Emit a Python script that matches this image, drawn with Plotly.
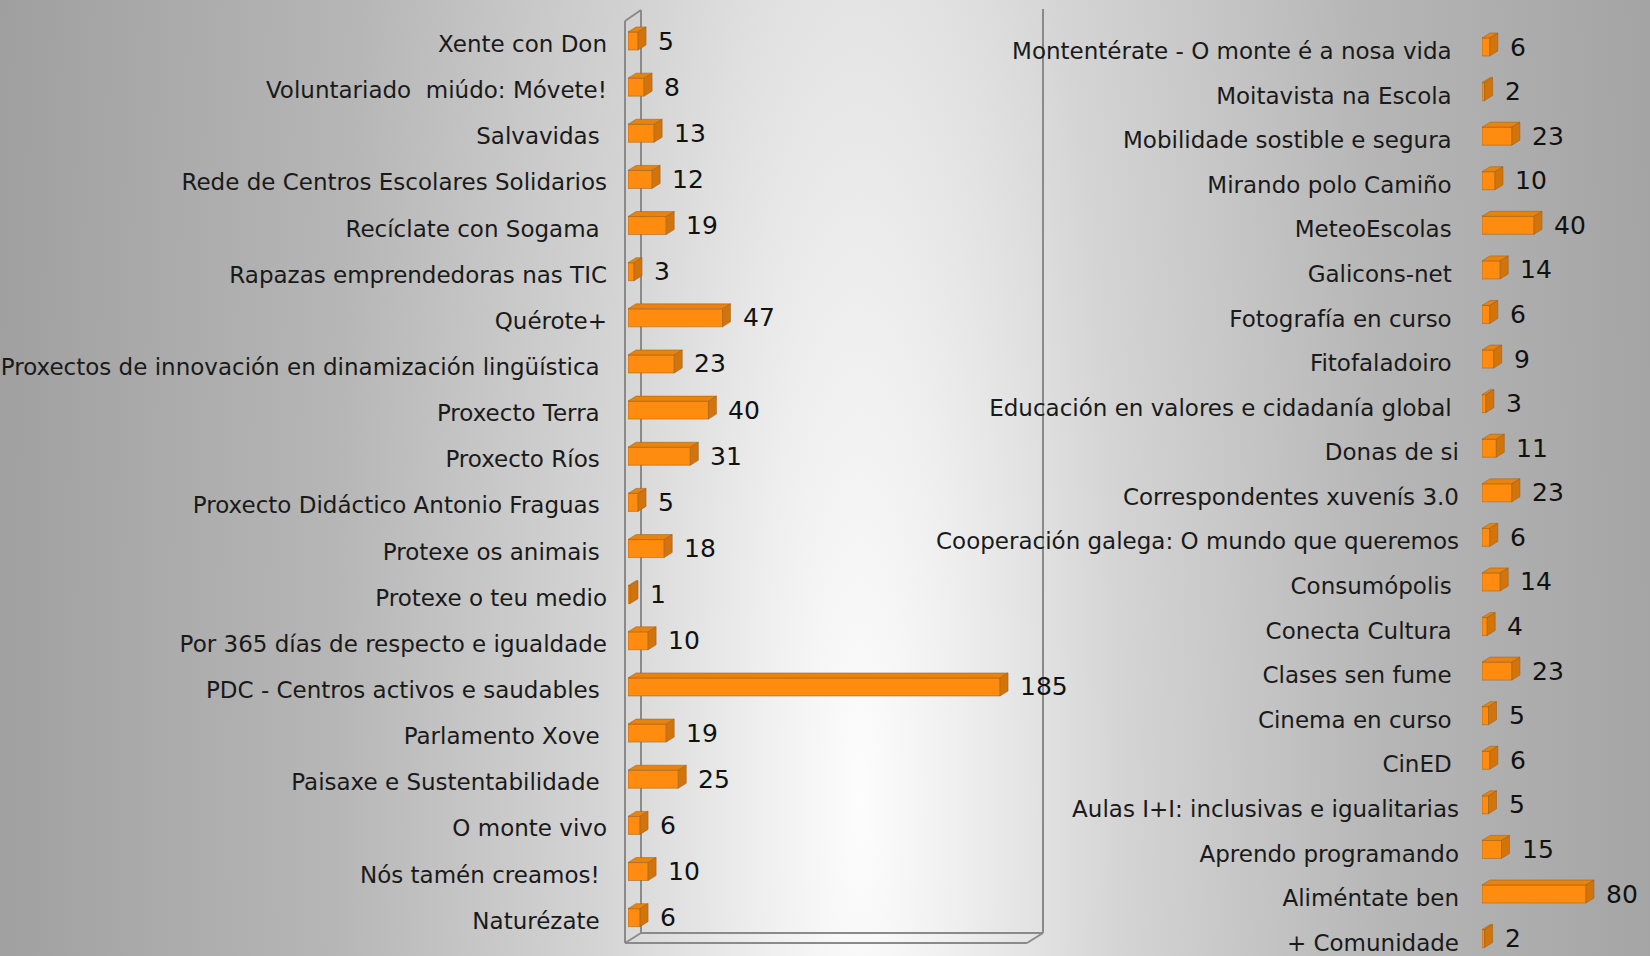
import base64
import plotly.graph_objects as go

# ---------------- data ----------------
left_labels = [
    "Xente con Don", "Voluntariado  miúdo: Móvete!", "Salvavidas ",
    "Rede de Centros Escolares Solidarios", "Recíclate con Sogama ",
    "Rapazas emprendedoras nas TIC", "Quérote+",
    "Proxectos de innovación en dinamización lingüística ", "Proxecto Terra ",
    "Proxecto Ríos ", "Proxecto Didáctico Antonio Fraguas ", "Protexe os animais ",
    "Protexe o teu medio", "Por 365 días de respecto e igualdade",
    "PDC - Centros activos e saudables ", "Parlamento Xove ",
    "Paisaxe e Sustentabilidade ", "O monte vivo", "Nós tamén creamos! ", "Naturézate ",
]
left_values = [5, 8, 13, 12, 19, 3, 47, 23, 40, 31, 5, 18, 1, 10, 185, 19, 25, 6, 10, 6]

right_labels = [
    "Montentérate - O monte é a nosa vida ", "Moitavista na Escola ",
    "Mobilidade sostible e segura ", "Mirando polo Camiño ", "MeteoEscolas ",
    "Galicons-net ", "Fotografía en curso ", "Fitofaladoiro ",
    "Educación en valores e cidadanía global ", "Donas de si",
    "Correspondentes xuvenís 3.0", "Cooperación galega: O mundo que queremos",
    "Consumópolis ", "Conecta Cultura ", "Clases sen fume ", "Cinema en curso ",
    "CinED ", "Aulas I+I: inclusivas e igualitarias", "Aprendo programando",
    "Aliméntate ben", "+ Comunidade",
]
right_values = [6, 2, 23, 10, 40, 14, 6, 9, 3, 11, 23, 6, 14, 4, 23, 5, 6, 5, 15, 80, 2]

# ---------------- layout constants ----------------
W, H = 1650, 956
FRONT = "#FF8C0F"
TOP = "#EA830B"
SIDE = "#D3740A"
EDGE = "rgba(150,95,30,0.65)"
FONT = "DejaVu Sans"

# left panel
L_X0, L_K, L_RANGE = 628, 2.011, 200
L_C0, L_STEP = 41, 46.14
# right panel
R_X0, R_K, R_RANGE = 1482, 1.3, 120
R_C0, R_STEP = 47, 44.58

BAR_H = 18      # front face height (px)
DX, DY = 8, 5   # 3D depth offset (px)


def nb(s):
    return s.replace(" ", "\u00a0")


fig = go.Figure()

panels = [
    dict(labels=left_labels, values=left_values, xa="x", ya="y",
         x0=L_X0, k=L_K, rng=L_RANGE, c0=L_C0, step=L_STEP),
    dict(labels=right_labels, values=right_values, xa="x2", ya="y2",
         x0=R_X0, k=R_K, rng=R_RANGE, c0=R_C0, step=R_STEP),
]

shapes = []
annotations = []
for p in panels:
    n = len(p["values"])
    idx = list(range(n))
    fig.add_trace(go.Bar(
        x=p["values"], y=idx, orientation="h",
        width=BAR_H / p["step"],
        marker=dict(color=FRONT, line=dict(color=EDGE, width=0.8)),
        xaxis=p["xa"], yaxis=p["ya"], hoverinfo="x+y", showlegend=False,
    ))
    d = DX / p["k"]
    h2 = BAR_H / 2
    for i, v in zip(idx, p["values"]):
        # top face (x in data units, y in pixels)
        shapes.append(dict(
            type="path", xref=p["xa"], yref=p["ya"],
            ysizemode="pixel", yanchor=i,
            path=f"M0,{h2} L{v},{h2} L{v + d},{h2 + DY} L{d},{h2 + DY} Z",
            fillcolor=TOP, line=dict(color=EDGE, width=0.8), layer="above",
        ))
        # side face
        shapes.append(dict(
            type="path", xref=p["xa"], yref=p["ya"],
            xsizemode="pixel", xanchor=v, ysizemode="pixel", yanchor=i,
            path=f"M0,{-h2} L0,{h2} L{DX},{h2 + DY} L{DX},{-h2 + DY} Z",
            fillcolor=SIDE, line=dict(color=EDGE, width=0.8), layer="above",
        ))
        annotations.append(dict(
            x=v, y=i, xref=p["xa"], yref=p["ya"], text=str(v), showarrow=False,
            xanchor="left", yanchor="middle", xshift=19, yshift=0, borderpad=0,
            font=dict(family=FONT, size=25, color="#111111"),
        ))

# 3D frame of the left panel (decoration, pixel geometry)
def P(x, y):
    return x / W, 1 - y / H

frame = [
    ((625, 21), (625, 943)), ((641, 10), (641, 933)), ((625, 21), (641, 10)),
    ((625, 943), (1027, 943)), ((641, 933), (1043, 933)),
    ((1027, 943), (1043, 933)), ((625, 943), (641, 933)),
    ((1043, 9), (1043, 933)),
]
for a, b in frame:
    xa_, ya_ = P(*a)
    xb_, yb_ = P(*b)
    shapes.append(dict(type="line", xref="paper", yref="paper",
                       x0=xa_, y0=ya_, x1=xb_, y1=yb_,
                       line=dict(color="#8a8a8a", width=2), layer="below"))

# background gradient
svg = f'''<svg xmlns="http://www.w3.org/2000/svg" width="{W}" height="{H}" viewBox="0 0 {W} {H}">
<defs><radialGradient id="g" gradientUnits="userSpaceOnUse" cx="0" cy="0" r="1"
 gradientTransform="translate(860 800) scale(880 4200)">
<stop offset="0" stop-color="#fdfdfd"/>
<stop offset="0.12" stop-color="#eeeeee"/>
<stop offset="0.3" stop-color="#d4d4d4"/>
<stop offset="0.6" stop-color="#b6b6b6"/>
<stop offset="1" stop-color="#9f9f9f"/>
</radialGradient></defs>
<rect width="{W}" height="{H}" fill="url(#g)"/></svg>'''
bg_src = "data:image/svg+xml;base64," + base64.b64encode(svg.encode()).decode()

tickfont = dict(family=FONT, size=23, color="#1a1a1a")

l_top = L_C0 - L_STEP / 2
l_bot = L_C0 + (len(left_values) - 0.5) * L_STEP
r_top = R_C0 - R_STEP / 2
r_bottom_idx = (H - R_C0) / R_STEP

fig.update_layout(
    width=W, height=H, autosize=False,
    margin=dict(l=0, r=0, t=0, b=0, pad=0),
    paper_bgcolor="#a0a0a0", plot_bgcolor="rgba(0,0,0,0)",
    bargap=0, showlegend=False, hovermode=False,
    shapes=shapes, annotations=annotations,
    images=[dict(source=bg_src, xref="paper", yref="paper", x=0, y=1,
                 sizex=1, sizey=1, sizing="stretch", layer="below")],
    xaxis=dict(domain=[L_X0 / W, (L_X0 + L_RANGE * L_K) / W], range=[0, L_RANGE],
               visible=False, fixedrange=True),
    yaxis=dict(domain=[1 - l_bot / H, 1 - l_top / H],
               range=[len(left_values) - 0.5, -0.5], anchor="x",
               tickmode="array", tickvals=list(range(len(left_labels))),
               ticktext=[nb(s) for s in left_labels], tickfont=tickfont,
               ticks="", showline=False, showgrid=False, zeroline=False,
               ticklabelstandoff=20, ticklabelshift=-3, fixedrange=True),
    xaxis2=dict(domain=[R_X0 / W, (R_X0 + R_RANGE * R_K) / W], range=[0, R_RANGE],
                visible=False, fixedrange=True, anchor="y2"),
    yaxis2=dict(domain=[0, 1 - r_top / H],
                range=[r_bottom_idx, -0.5], anchor="x2",
                tickmode="array", tickvals=list(range(len(right_labels))),
                ticktext=[nb(s) for s in right_labels], tickfont=tickfont,
                ticks="", showline=False, showgrid=False, zeroline=False,
                ticklabelstandoff=22, ticklabelshift=-4, fixedrange=True),
)

fig.write_html("out.html",
               config={"displayModeBar": False, "staticPlot": True},
               post_script="document.body.style.margin='0px';document.body.style.overflow='hidden';")
